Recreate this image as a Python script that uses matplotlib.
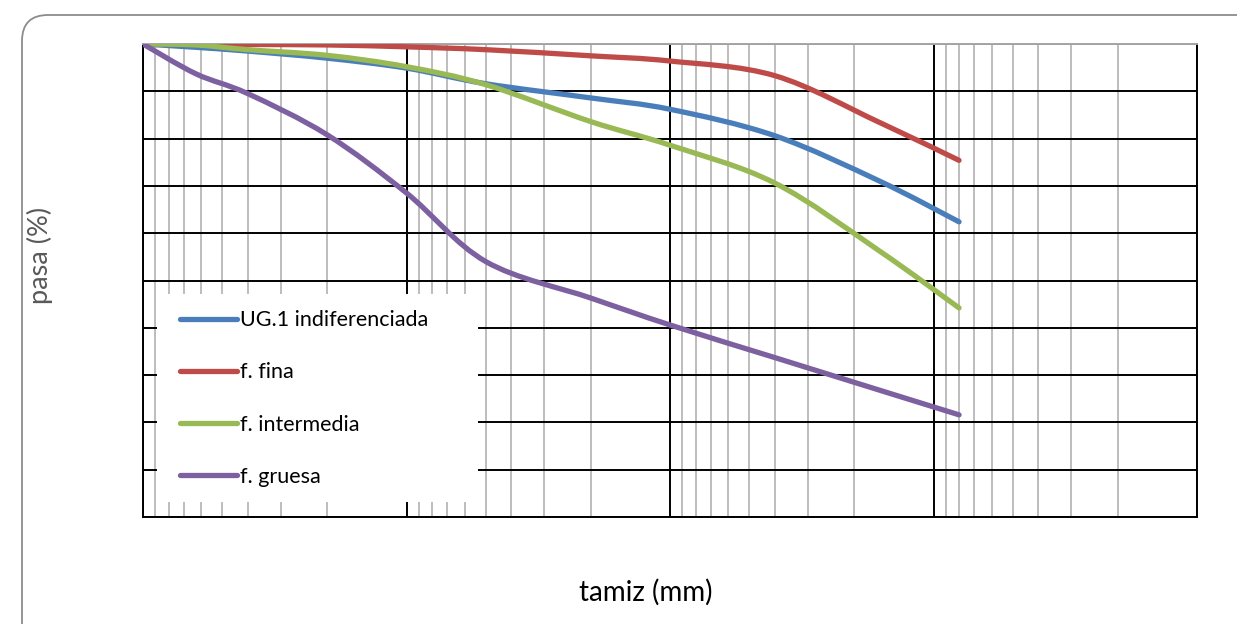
import matplotlib
matplotlib.use("Agg")
import matplotlib.pyplot as plt
from matplotlib.path import Path
from matplotlib.patches import PathPatch, FancyBboxPatch, Rectangle
from matplotlib.lines import Line2D
from matplotlib.ticker import LogLocator, MultipleLocator, NullFormatter
from matplotlib.transforms import IdentityTransform
import numpy as np

plt.rcParams['font.family'] = ['Lato', 'DejaVu Sans']

# Sieve openings (mm) and percent passing for each sample
tamiz_mm = [100, 63, 40, 20, 10, 5, 2, 1, 0.4, 0.16, 0.08]
ug1_indif = [100, 99.3, 98.5, 97.0, 94.9, 91.6, 88.6, 86.2, 80.6, 71.0, 62.4]
f_fina = [100, 100, 99.9, 99.8, 99.4, 98.8, 97.5, 96.4, 93.3, 83.4, 75.4]
f_intermedia = [100, 99.8, 98.8, 97.6, 95.2, 91.4, 83.6, 78.6, 70.6, 56.2, 44.2]
f_gruesa = [100, 93.7, 89.5, 80.8, 68.5, 54.0, 46.3, 40.6, 33.7, 26.8, 21.6]

series = [
    ("UG.1 indiferenciada", ug1_indif, "#4A7EBB"),
    ("f. fina", f_fina, "#BE4B48"),
    ("f. intermedia", f_intermedia, "#98B954"),
    ("f. gruesa", f_gruesa, "#7D60A0"),
]


def smooth_path(x, y):
    """Bezier path through the points, built in log-x space (Excel-style smoothing)."""
    lx = np.log10(np.asarray(x, float))
    y = np.asarray(y, float)
    pts = np.column_stack([lx, y])
    n = len(pts)
    verts = [pts[0]]
    codes = [Path.MOVETO]
    for i in range(n - 1):
        p0 = pts[i - 1] if i > 0 else pts[i]
        p1, p2 = pts[i], pts[i + 1]
        p3 = pts[i + 2] if i + 2 < n else pts[i + 1]
        c1 = p1 + (p2 - p0) / 6.0
        c2 = p2 - (p3 - p1) / 6.0
        verts += [c1, c2, p2]
        codes += [Path.CURVE4] * 3
    verts = np.array(verts)
    verts[:, 0] = 10 ** verts[:, 0]
    return Path(verts, codes)


fig = plt.figure(figsize=(12.37, 6.24), dpi=100)

# rounded chart-area border
fig.patches.append(FancyBboxPatch((22, -60), 1300, 624 - 15 + 60,
                                  boxstyle="round,pad=0,rounding_size=26",
                                  transform=IdentityTransform(), facecolor="none",
                                  edgecolor="#8C8C8C", lw=1.3, zorder=-1))

ax = fig.add_axes([143 / 1237, 1 - 517 / 624, (1197 - 143) / 1237, (517 - 44) / 624])
ax.set_xscale('log')
ax.set_xlim(100, 0.01)
ax.set_ylim(0, 100)

ax.xaxis.set_minor_locator(LogLocator(base=10, subs=np.arange(2, 10)))
ax.xaxis.set_minor_formatter(NullFormatter())
ax.yaxis.set_major_locator(MultipleLocator(10))
ax.tick_params(which='both', length=0, labelbottom=False, labelleft=False)
ax.set_axisbelow(True)
ax.grid(which='major', color='black', lw=1.4)
ax.grid(which='minor', axis='x', color='#BDBDBD', lw=1.4)
for side in ['left', 'bottom', 'right']:
    ax.spines[side].set_color('black')
    ax.spines[side].set_linewidth(1.4)
ax.spines['top'].set_color('#A6A6A6')
ax.spines['top'].set_linewidth(1.4)

handles = []
for label, vals, color in series:
    patch = PathPatch(smooth_path(tamiz_mm, vals), facecolor='none', edgecolor=color,
                      lw=3.8, capstyle='round', joinstyle='round', zorder=3)
    ax.add_patch(patch)
    handles.append(Line2D([], [], color=color, lw=3.8, solid_capstyle='round', label=label))

# legend box
ax.add_patch(Rectangle(((157 - 143) / 1054, (517 - 502) / 473), (478 - 157) / 1054, (502 - 294) / 473,
                       transform=ax.transAxes, facecolor='white', edgecolor='none', zorder=4))
ax.legend(handles=handles, loc='center left', bbox_to_anchor=((180 - 143) / 1054, (517 - 398.5) / 473),
          frameon=False, fontsize=15.5, handlelength=2.65, handletextpad=0.14, labelspacing=1.49,
          borderpad=0, borderaxespad=0)

ax.set_xlabel('tamiz (mm)', fontsize=20, color='black', va='center', ha='center')
ax.xaxis.set_label_coords((646 - 143) / 1054, (517 - 592) / 473)
ax.set_ylabel('pasa (%)', fontsize=19.5, color='#595959', va='center', ha='center')
ax.yaxis.set_label_coords((40 - 143) / 1054, (517 - 255) / 473)

fig.savefig('out.png', dpi=100)
